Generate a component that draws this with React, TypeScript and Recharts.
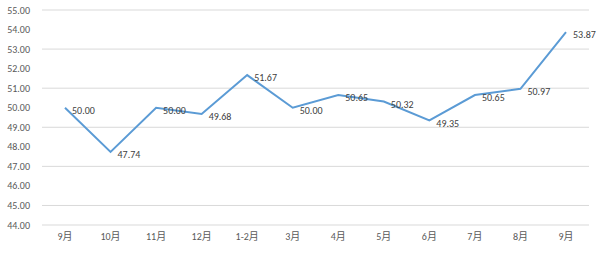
import { LineChart, Line, XAxis, YAxis, CartesianGrid, LabelList } from "recharts"

const months = ["9月", "10月", "11月", "12月", "1-2月", "3月", "4月", "5月", "6月", "7月", "8月", "9月"]
const values = [50.0, 47.74, 50.0, 49.68, 51.67, 50.0, 50.65, 50.32, 49.35, 50.65, 50.97, 53.87]
const yTicks = [44, 45, 46, 47, 48, 49, 50, 51, 52, 53, 54, 55]

const data = months.map((m, i) => ({ key: i, month: m, value: values[i] }))

const font = "Calibri, Carlito, 'Liberation Sans', 'Noto Sans CJK SC', sans-serif"

const PointLabel = (props: any) => {
  const { x, y, value } = props
  return (
    <text x={x + 7} y={y + 4} fill="#404040" fontSize={10} fontFamily={font} dominantBaseline="middle">
      {Number(value).toFixed(2)}
    </text>
  )
}

export default function App() {
  return (
    <div style={{ position: "absolute", left: 0, top: 0, background: "#fff" }}>
      <LineChart width={600} height={253} data={data} margin={{ top: 10, right: 11, left: 0, bottom: 0 }}>
        <CartesianGrid vertical={false} stroke="#d9d9d9" />
        <XAxis
          dataKey="key"
          tickFormatter={(i: number) => months[i]}
          axisLine={false}
          tickLine={false}
          height={28}
          padding={{ left: 23, right: 23 }}
          interval={0}
          tick={{ fill: "#595959", fontSize: 10, fontFamily: font }}
        />
        <YAxis
          domain={[44, 55]}
          ticks={yTicks}
          width={42}
          axisLine={false}
          tickLine={false}
          tickMargin={6}
          tickFormatter={(v: number) => v.toFixed(2)}
          tick={{ fill: "#595959", fontSize: 10, fontFamily: font }}
        />
        <Line
          type="linear"
          dataKey="value"
          stroke="#5b9bd5"
          strokeWidth={2}
          dot={false}
          isAnimationActive={false}
        >
          <LabelList dataKey="value" content={<PointLabel />} />
        </Line>
      </LineChart>
    </div>
  )
}
